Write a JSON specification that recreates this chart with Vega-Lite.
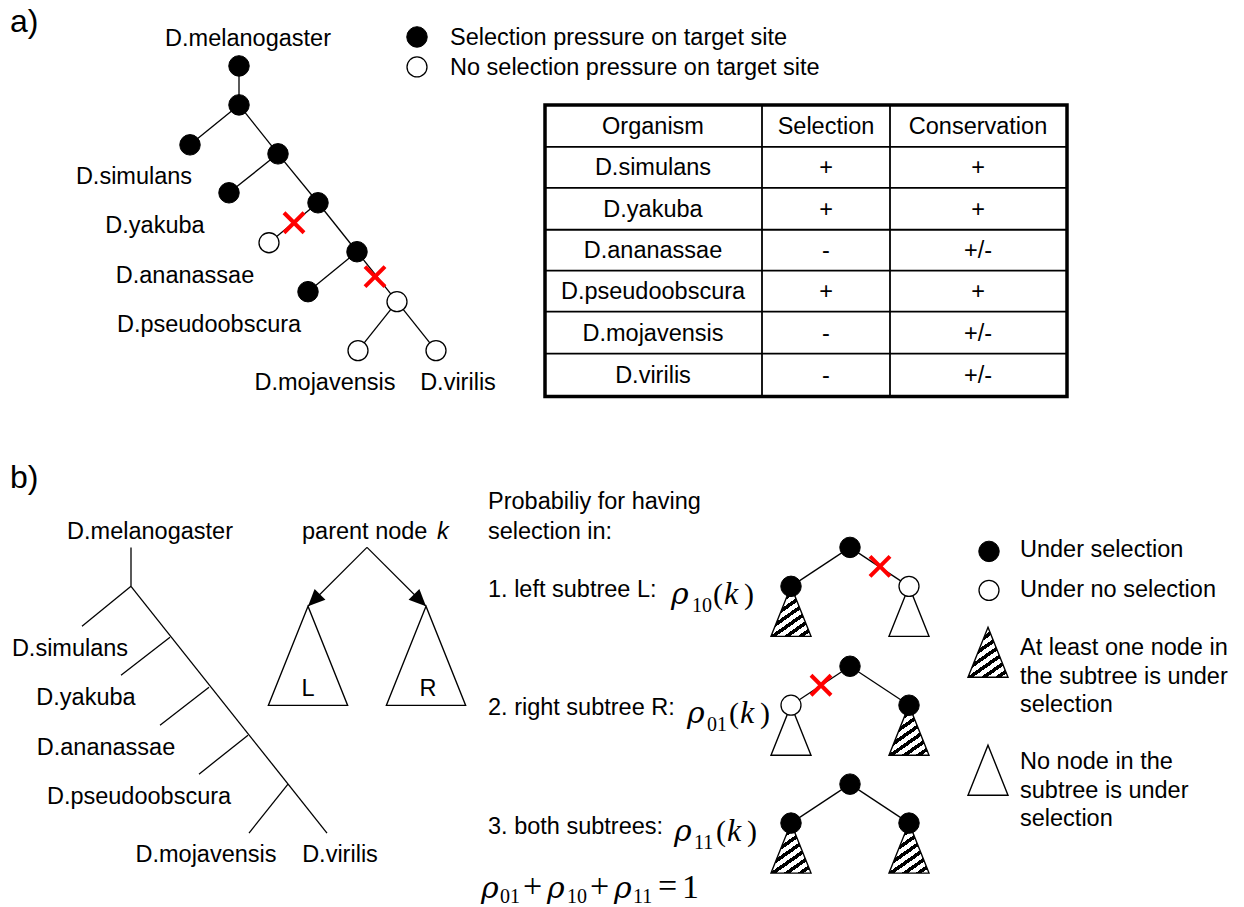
{
  "$schema": "https://vega.github.io/schema/vega-lite/v6.json",
  "autosize": {"type": "fit", "contains": "padding"},
  "width": 1244,
  "height": 907,
  "padding": 0,
  "background": "white",
  "config": {"view": {"stroke": null}},
  "datasets": {
    "diagram": [
      {"kind": "edge", "x": 239, "y": 66, "x2": 239, "y2": 105},
      {"kind": "edge", "x": 239, "y": 105, "x2": 190, "y2": 145},
      {"kind": "edge", "x": 239, "y": 105, "x2": 278, "y2": 154},
      {"kind": "edge", "x": 278, "y": 154, "x2": 229, "y2": 193},
      {"kind": "edge", "x": 278, "y": 154, "x2": 318, "y2": 203},
      {"kind": "edge", "x": 318, "y": 203, "x2": 269, "y2": 243},
      {"kind": "edge", "x": 318, "y": 203, "x2": 357, "y2": 252},
      {"kind": "edge", "x": 357, "y": 252, "x2": 308, "y2": 292},
      {"kind": "edge", "x": 357, "y": 252, "x2": 397, "y2": 302},
      {"kind": "edge", "x": 397, "y": 302, "x2": 358, "y2": 351},
      {"kind": "edge", "x": 397, "y": 302, "x2": 436, "y2": 351},

      {"kind": "edge", "x": 131, "y": 548, "x2": 131, "y2": 587},
      {"kind": "edge", "x": 131, "y": 587, "x2": 82, "y2": 627},
      {"kind": "edge", "x": 131, "y": 587, "x2": 327, "y2": 834},
      {"kind": "edge", "x": 170, "y": 638, "x2": 121, "y2": 676},
      {"kind": "edge", "x": 209, "y": 688, "x2": 160, "y2": 726},
      {"kind": "edge", "x": 248, "y": 736, "x2": 199, "y2": 775},
      {"kind": "edge", "x": 288, "y": 785, "x2": 249, "y2": 834},

      {"kind": "edge", "x": 367, "y": 548, "x2": 308, "y2": 607},
      {"kind": "edge", "x": 367, "y": 548, "x2": 426, "y2": 607},

      {"kind": "edge", "x": 850, "y": 548, "x2": 791, "y2": 587},
      {"kind": "edge", "x": 850, "y": 548, "x2": 909, "y2": 587},
      {"kind": "edge", "x": 850, "y": 667, "x2": 791, "y2": 706},
      {"kind": "edge", "x": 850, "y": 667, "x2": 909, "y2": 706},
      {"kind": "edge", "x": 850, "y": 785, "x2": 791, "y2": 824},
      {"kind": "edge", "x": 850, "y": 785, "x2": 909, "y2": 824},

      {"kind": "frame", "x": 545, "y": 105, "x2": 1067, "y2": 397},
      {"kind": "grid", "x": 762, "y": 105, "x2": 762, "y2": 397},
      {"kind": "grid", "x": 890, "y": 105, "x2": 890, "y2": 397},
      {"kind": "grid", "x": 545, "y": 147, "x2": 1067, "y2": 147},
      {"kind": "grid", "x": 545, "y": 188, "x2": 1067, "y2": 188},
      {"kind": "grid", "x": 545, "y": 230, "x2": 1067, "y2": 230},
      {"kind": "grid", "x": 545, "y": 271, "x2": 1067, "y2": 271},
      {"kind": "grid", "x": 545, "y": 312, "x2": 1067, "y2": 312},
      {"kind": "grid", "x": 545, "y": 354, "x2": 1067, "y2": 354},

      {"kind": "tri", "x": 791, "y": 587, "hatched": "yes"},
      {"kind": "tri", "x": 909, "y": 587, "hatched": "no"},
      {"kind": "tri", "x": 791, "y": 706, "hatched": "no"},
      {"kind": "tri", "x": 909, "y": 706, "hatched": "yes"},
      {"kind": "tri", "x": 791, "y": 824, "hatched": "yes"},
      {"kind": "tri", "x": 909, "y": 824, "hatched": "yes"},
      {"kind": "tri", "x": 988, "y": 628, "hatched": "yes"},
      {"kind": "tri", "x": 988, "y": 746, "hatched": "no"},
      {"kind": "subtree", "x": 308, "y": 607},
      {"kind": "subtree", "x": 426, "y": 607},

      {"kind": "arrowhead", "x": 308, "y": 607, "dir": "left"},
      {"kind": "arrowhead", "x": 426, "y": 607, "dir": "right"},

      {"kind": "node", "x": 239, "y": 66, "sel": "yes"},
      {"kind": "node", "x": 239, "y": 105, "sel": "yes"},
      {"kind": "node", "x": 190, "y": 145, "sel": "yes"},
      {"kind": "node", "x": 278, "y": 154, "sel": "yes"},
      {"kind": "node", "x": 229, "y": 193, "sel": "yes"},
      {"kind": "node", "x": 318, "y": 203, "sel": "yes"},
      {"kind": "node", "x": 269, "y": 243, "sel": "no"},
      {"kind": "node", "x": 357, "y": 252, "sel": "yes"},
      {"kind": "node", "x": 308, "y": 292, "sel": "yes"},
      {"kind": "node", "x": 397, "y": 302, "sel": "no"},
      {"kind": "node", "x": 358, "y": 351, "sel": "no"},
      {"kind": "node", "x": 436, "y": 351, "sel": "no"},
      {"kind": "node", "x": 417, "y": 37, "sel": "yes"},
      {"kind": "node", "x": 417, "y": 67, "sel": "no"},

      {"kind": "node", "x": 850, "y": 548, "sel": "yes"},
      {"kind": "node", "x": 791, "y": 587, "sel": "yes"},
      {"kind": "node", "x": 909, "y": 587, "sel": "no"},
      {"kind": "node", "x": 850, "y": 667, "sel": "yes"},
      {"kind": "node", "x": 791, "y": 706, "sel": "no"},
      {"kind": "node", "x": 909, "y": 706, "sel": "yes"},
      {"kind": "node", "x": 850, "y": 785, "sel": "yes"},
      {"kind": "node", "x": 791, "y": 824, "sel": "yes"},
      {"kind": "node", "x": 909, "y": 824, "sel": "yes"},
      {"kind": "node", "x": 989, "y": 552, "sel": "yes"},
      {"kind": "node", "x": 989, "y": 591, "sel": "no"},

      {"kind": "cut", "x": 294, "y": 223},
      {"kind": "cut", "x": 375, "y": 277},
      {"kind": "cut", "x": 880, "y": 567},
      {"kind": "cut", "x": 821, "y": 686},

      {"kind": "tag", "x": 10, "y": 32, "text": "a)"},
      {"kind": "tag", "x": 10, "y": 489, "text": "b)"},

      {"kind": "name", "x": 248, "y": 39, "text": "D.melanogaster"},
      {"kind": "name", "x": 134, "y": 177, "text": "D.simulans"},
      {"kind": "name", "x": 155, "y": 226, "text": "D.yakuba"},
      {"kind": "name", "x": 185, "y": 276, "text": "D.ananassae"},
      {"kind": "name", "x": 209, "y": 325, "text": "D.pseudoobscura"},
      {"kind": "name", "x": 325, "y": 383, "text": "D.mojavensis"},
      {"kind": "name", "x": 458, "y": 383, "text": "D.virilis"},

      {"kind": "name", "x": 653, "y": 127, "text": "Organism"},
      {"kind": "name", "x": 826, "y": 127, "text": "Selection"},
      {"kind": "name", "x": 978, "y": 127, "text": "Conservation"},
      {"kind": "name", "x": 653, "y": 168, "text": "D.simulans"},
      {"kind": "name", "x": 826, "y": 168, "text": "+"},
      {"kind": "name", "x": 978, "y": 168, "text": "+"},
      {"kind": "name", "x": 653, "y": 210, "text": "D.yakuba"},
      {"kind": "name", "x": 826, "y": 210, "text": "+"},
      {"kind": "name", "x": 978, "y": 210, "text": "+"},
      {"kind": "name", "x": 653, "y": 251, "text": "D.ananassae"},
      {"kind": "name", "x": 826, "y": 251, "text": "-"},
      {"kind": "name", "x": 978, "y": 251, "text": "+/-"},
      {"kind": "name", "x": 653, "y": 292, "text": "D.pseudoobscura"},
      {"kind": "name", "x": 826, "y": 292, "text": "+"},
      {"kind": "name", "x": 978, "y": 292, "text": "+"},
      {"kind": "name", "x": 653, "y": 334, "text": "D.mojavensis"},
      {"kind": "name", "x": 826, "y": 334, "text": "-"},
      {"kind": "name", "x": 978, "y": 334, "text": "+/-"},
      {"kind": "name", "x": 653, "y": 376, "text": "D.virilis"},
      {"kind": "name", "x": 826, "y": 376, "text": "-"},
      {"kind": "name", "x": 978, "y": 376, "text": "+/-"},

      {"kind": "name", "x": 150, "y": 533, "text": "D.melanogaster"},
      {"kind": "name", "x": 70, "y": 650, "text": "D.simulans"},
      {"kind": "name", "x": 86, "y": 699, "text": "D.yakuba"},
      {"kind": "name", "x": 106, "y": 749, "text": "D.ananassae"},
      {"kind": "name", "x": 139, "y": 798, "text": "D.pseudoobscura"},
      {"kind": "name", "x": 206, "y": 856, "text": "D.mojavensis"},
      {"kind": "name", "x": 340, "y": 856, "text": "D.virilis"},
      {"kind": "name", "x": 308, "y": 690, "text": "L"},
      {"kind": "name", "x": 428, "y": 690, "text": "R"},

      {"kind": "note", "x": 450, "y": 38, "text": "Selection pressure on target site"},
      {"kind": "note", "x": 450, "y": 68, "text": "No selection pressure on target site"},
      {"kind": "note", "x": 302, "y": 533, "text": "parent node"},
      {"kind": "knote", "x": 437, "y": 533, "text": "k"},
      {"kind": "note", "x": 488, "y": 503, "text": "Probabiliy for having"},
      {"kind": "note", "x": 488, "y": 533, "text": "selection in:"},
      {"kind": "note", "x": 488, "y": 591, "text": "1. left subtree L:"},
      {"kind": "note", "x": 488, "y": 709, "text": "2. right subtree R:"},
      {"kind": "note", "x": 488, "y": 828, "text": "3. both subtrees:"},
      {"kind": "note", "x": 1020, "y": 551, "text": "Under selection"},
      {"kind": "note", "x": 1020, "y": 591, "text": "Under no selection"},
      {"kind": "note", "x": 1020, "y": 649, "text": "At least one node in"},
      {"kind": "note", "x": 1020, "y": 678, "text": "the subtree is under"},
      {"kind": "note", "x": 1020, "y": 706, "text": "selection"},
      {"kind": "note", "x": 1020, "y": 763, "text": "No node in the"},
      {"kind": "note", "x": 1020, "y": 792, "text": "subtree is under"},
      {"kind": "note", "x": 1020, "y": 820, "text": "selection"},

      {"kind": "math", "role": "rho", "x": 671, "y": 605, "text": "ρ"},
      {"kind": "math", "role": "sub", "x": 692, "y": 613, "text": "10"},
      {"kind": "math", "role": "op", "x": 713, "y": 605, "text": "("},
      {"kind": "math", "role": "var", "x": 724, "y": 605, "text": "k"},
      {"kind": "math", "role": "op", "x": 744, "y": 605, "text": ")"},

      {"kind": "math", "role": "rho", "x": 687, "y": 724, "text": "ρ"},
      {"kind": "math", "role": "sub", "x": 707, "y": 732, "text": "01"},
      {"kind": "math", "role": "op", "x": 729, "y": 724, "text": "("},
      {"kind": "math", "role": "var", "x": 740, "y": 724, "text": "k"},
      {"kind": "math", "role": "op", "x": 760, "y": 724, "text": ")"},

      {"kind": "math", "role": "rho", "x": 674, "y": 842, "text": "ρ"},
      {"kind": "math", "role": "sub", "x": 694, "y": 850, "text": "11"},
      {"kind": "math", "role": "op", "x": 716, "y": 842, "text": "("},
      {"kind": "math", "role": "var", "x": 727, "y": 842, "text": "k"},
      {"kind": "math", "role": "op", "x": 747, "y": 842, "text": ")"},

      {"kind": "math", "role": "rho", "x": 481, "y": 899, "text": "ρ"},
      {"kind": "math", "role": "sub", "x": 500, "y": 904, "text": "01"},
      {"kind": "math", "role": "eqop", "x": 523, "y": 898, "text": "+"},
      {"kind": "math", "role": "rho", "x": 547, "y": 899, "text": "ρ"},
      {"kind": "math", "role": "sub", "x": 567, "y": 904, "text": "10"},
      {"kind": "math", "role": "eqop", "x": 590, "y": 898, "text": "+"},
      {"kind": "math", "role": "rho", "x": 614, "y": 899, "text": "ρ"},
      {"kind": "math", "role": "sub", "x": 633, "y": 904, "text": "11"},
      {"kind": "math", "role": "eqop", "x": 658, "y": 898, "text": "="},
      {"kind": "math", "role": "eqop", "x": 682, "y": 899, "text": "1"}
    ]
  },
  "data": {"name": "diagram"},
  "encoding": {
    "x": {"field": "x", "type": "quantitative", "axis": null, "scale": {"domain": [0, 1244], "nice": false, "zero": false}},
    "y": {"field": "y", "type": "quantitative", "axis": null, "scale": {"domain": [0, 907], "nice": false, "zero": false, "reverse": true}}
  },
  "layer": [
    {
      "transform": [{"filter": "datum.kind === 'frame'"}],
      "mark": {"type": "rect", "fill": null, "stroke": "black", "strokeWidth": 3.5},
      "encoding": {"x2": {"field": "x2"}, "y2": {"field": "y2"}}
    },
    {
      "transform": [{"filter": "datum.kind === 'grid'"}],
      "mark": {"type": "rule", "stroke": "black", "strokeWidth": 1.8},
      "encoding": {"x2": {"field": "x2"}, "y2": {"field": "y2"}}
    },
    {
      "transform": [{"filter": "datum.kind === 'edge'"}],
      "mark": {"type": "rule", "stroke": "black", "strokeWidth": 1.3},
      "encoding": {"x2": {"field": "x2"}, "y2": {"field": "y2"}}
    },
    {
      "transform": [{"filter": "datum.kind === 'tri' && datum.hatched === 'no'"}],
      "mark": {"type": "point", "shape": "M0,0L0.4,1L-0.4,1Z", "size": 10000, "filled": true, "fill": "white", "stroke": "black", "strokeWidth": 1.4, "opacity": 1}
    },
    {
      "transform": [{"filter": "datum.kind === 'subtree'"}],
      "mark": {"type": "point", "shape": "M0,0L0.4,1L-0.4,1Z", "size": 39204, "filled": true, "fill": "white", "stroke": "black", "strokeWidth": 1.4, "opacity": 1}
    },
    {
      "transform": [{"filter": "datum.kind === 'tri' && datum.hatched === 'yes'"}],
      "mark": {
        "type": "point", "shape": "M0,0L0.4,1L-0.4,1Z", "size": 10000, "filled": true,
        "stroke": "black", "strokeWidth": 1.4, "opacity": 1,
        "fill": {
          "gradient": "linear", "x1": 0, "y1": 0, "x2": 0.67, "y2": 1.19,
          "stops": [
            {"offset": 0, "color": "black"}, {"offset": 0.056, "color": "black"}, {"offset": 0.056, "color": "white"}, {"offset": 0.125, "color": "white"},
            {"offset": 0.125, "color": "black"}, {"offset": 0.181, "color": "black"}, {"offset": 0.181, "color": "white"}, {"offset": 0.25, "color": "white"},
            {"offset": 0.25, "color": "black"}, {"offset": 0.306, "color": "black"}, {"offset": 0.306, "color": "white"}, {"offset": 0.375, "color": "white"},
            {"offset": 0.375, "color": "black"}, {"offset": 0.431, "color": "black"}, {"offset": 0.431, "color": "white"}, {"offset": 0.5, "color": "white"},
            {"offset": 0.5, "color": "black"}, {"offset": 0.556, "color": "black"}, {"offset": 0.556, "color": "white"}, {"offset": 0.625, "color": "white"},
            {"offset": 0.625, "color": "black"}, {"offset": 0.681, "color": "black"}, {"offset": 0.681, "color": "white"}, {"offset": 0.75, "color": "white"},
            {"offset": 0.75, "color": "black"}, {"offset": 0.806, "color": "black"}, {"offset": 0.806, "color": "white"}, {"offset": 0.875, "color": "white"},
            {"offset": 0.875, "color": "black"}, {"offset": 0.931, "color": "black"}, {"offset": 0.931, "color": "white"}, {"offset": 1, "color": "white"}
          ]
        }
      }
    },
    {
      "transform": [{"filter": "datum.kind === 'arrowhead' && datum.dir === 'left'"}],
      "mark": {"type": "point", "shape": "M0,0L-0.45,-1L0.45,-1Z", "size": 1156, "angle": 45, "filled": true, "fill": "black", "stroke": null, "opacity": 1}
    },
    {
      "transform": [{"filter": "datum.kind === 'arrowhead' && datum.dir === 'right'"}],
      "mark": {"type": "point", "shape": "M0,0L-0.45,-1L0.45,-1Z", "size": 1156, "angle": 315, "filled": true, "fill": "black", "stroke": null, "opacity": 1}
    },
    {
      "transform": [{"filter": "datum.kind === 'node' && datum.sel === 'yes'"}],
      "mark": {"type": "point", "shape": "circle", "size": 420, "filled": true, "fill": "black", "stroke": "black", "strokeWidth": 1, "opacity": 1}
    },
    {
      "transform": [{"filter": "datum.kind === 'node' && datum.sel === 'no'"}],
      "mark": {"type": "point", "shape": "circle", "size": 400, "filled": true, "fill": "white", "stroke": "black", "strokeWidth": 1.3, "opacity": 1}
    },
    {
      "transform": [{"filter": "datum.kind === 'cut'"}],
      "mark": {"type": "point", "shape": "M-1,-1L1,1M1,-1L-1,1", "size": 400, "filled": false, "fill": null, "stroke": "#ff0000", "strokeWidth": 4, "opacity": 1}
    },
    {
      "transform": [{"filter": "datum.kind === 'tag'"}],
      "mark": {"type": "text", "font": "Liberation Sans", "fontSize": 32, "align": "left", "baseline": "alphabetic", "color": "black"},
      "encoding": {"text": {"field": "text"}}
    },
    {
      "transform": [{"filter": "datum.kind === 'name'"}],
      "mark": {"type": "text", "font": "Liberation Sans", "fontSize": 23.5, "align": "center", "baseline": "middle", "color": "black"},
      "encoding": {"text": {"field": "text"}}
    },
    {
      "transform": [{"filter": "datum.kind === 'note'"}],
      "mark": {"type": "text", "font": "Liberation Sans", "fontSize": 23.5, "align": "left", "baseline": "middle", "color": "black"},
      "encoding": {"text": {"field": "text"}}
    },
    {
      "transform": [{"filter": "datum.kind === 'knote'"}],
      "mark": {"type": "text", "font": "Liberation Sans", "fontSize": 23.5, "fontStyle": "italic", "align": "left", "baseline": "middle", "color": "black"},
      "encoding": {"text": {"field": "text"}}
    },
    {
      "transform": [{"filter": "datum.kind === 'math' && datum.role === 'rho'"}],
      "mark": {"type": "text", "font": "DejaVu Serif", "fontSize": 30, "fontStyle": "italic", "align": "left", "baseline": "alphabetic", "color": "black"},
      "encoding": {"text": {"field": "text"}}
    },
    {
      "transform": [{"filter": "datum.kind === 'math' && datum.role === 'var'"}],
      "mark": {"type": "text", "font": "Liberation Serif", "fontSize": 32, "fontStyle": "italic", "align": "left", "baseline": "alphabetic", "color": "black"},
      "encoding": {"text": {"field": "text"}}
    },
    {
      "transform": [{"filter": "datum.kind === 'math' && datum.role === 'op'"}],
      "mark": {"type": "text", "font": "Liberation Serif", "fontSize": 30, "align": "left", "baseline": "alphabetic", "color": "black"},
      "encoding": {"text": {"field": "text"}}
    },
    {
      "transform": [{"filter": "datum.kind === 'math' && datum.role === 'eqop'"}],
      "mark": {"type": "text", "font": "Liberation Serif", "fontSize": 34, "align": "left", "baseline": "alphabetic", "color": "black"},
      "encoding": {"text": {"field": "text"}}
    },
    {
      "transform": [{"filter": "datum.kind === 'math' && datum.role === 'sub'"}],
      "mark": {"type": "text", "font": "Liberation Serif", "fontSize": 20, "align": "left", "baseline": "alphabetic", "color": "black"},
      "encoding": {"text": {"field": "text"}}
    }
  ]
}
